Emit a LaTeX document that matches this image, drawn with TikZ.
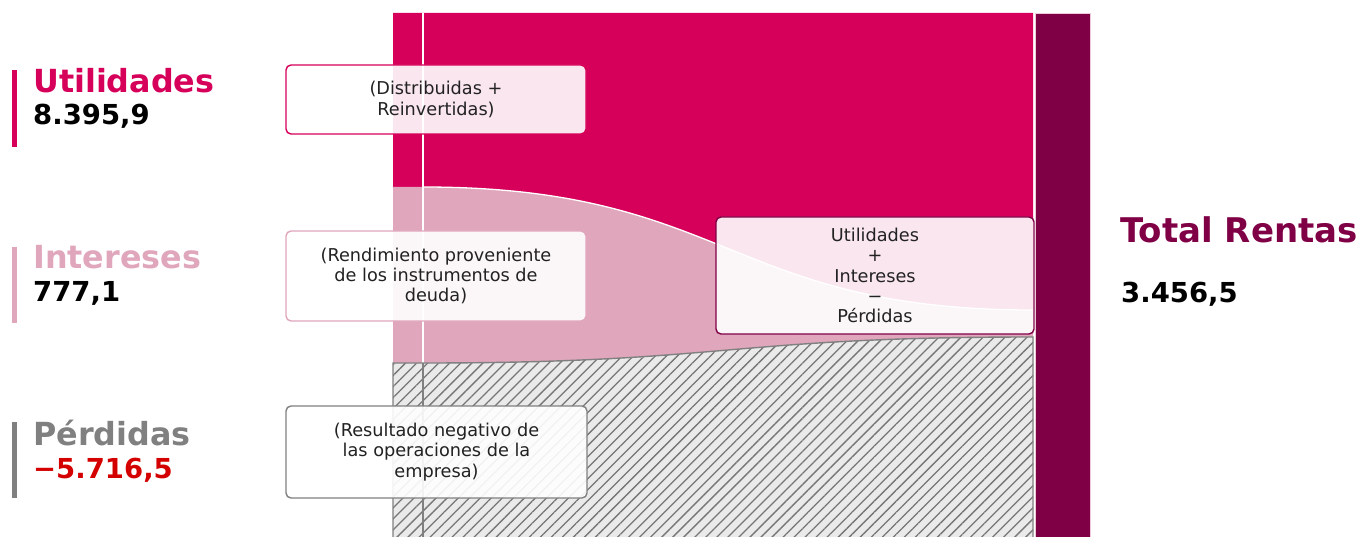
\documentclass[tikz,border=0pt]{standalone}
\usepackage{fontspec}
\setmainfont{DejaVu Sans}
\usetikzlibrary{patterns.meta}
\definecolor{pinkU}{RGB}{214,0,90}
\definecolor{pinkI}{RGB}{224,166,188}
\definecolor{darkM}{RGB}{128,0,70}
\definecolor{greyT}{RGB}{128,128,128}
\definecolor{redV}{RGB}{212,0,0}
\definecolor{hatchbg}{RGB}{234,234,234}
\definecolor{hatchln}{RGB}{118,118,118}
\definecolor{edgeg}{RGB}{128,128,128}
\definecolor{boxtxt}{RGB}{34,34,34}
\tikzset{
  note/.style={draw, line width=1.4pt, rounded corners=5pt, fill=white, fill opacity=0.9, text opacity=1,
    align=center, text=boxtxt, font=\fontsize{17.7}{20.4}\selectfont, inner sep=0pt},
  title/.style={anchor=base west, inner sep=0pt, font=\fontsize{31.8}{36}\selectfont\bfseries},
  value/.style={anchor=base west, inner sep=0pt, font=\fontsize{27.5}{33}\selectfont\bfseries},
  hatched/.style={fill=hatchbg, postaction={pattern={Lines[angle=45,distance=7.8pt,line width=1.3pt]}, pattern color=hatchln}},
}
\begin{document}
\begin{tikzpicture}[x=1pt,y=-1pt]
\useasboundingbox (0,0) rectangle (1359,537);
\clip (0,0) rectangle (1359,537);
% flows
\fill[pinkU] (393,13) -- (1033,13) -- (1033,310) .. controls (728,310) and (728,187) .. (423,187) -- (393,187) -- cycle;
\fill[pinkI] (393,187) -- (423,187) .. controls (728,187) and (728,310) .. (1033,310) -- (1033,337) .. controls (728,337) and (728,363) .. (423,363) -- (393,363) -- cycle;
\draw[white, line width=1.3pt] (423,187) .. controls (728,187) and (728,310) .. (1033,310);
\draw[white, line width=1.8pt] (423,13) -- (423,363);
\path[hatched] (423,363) .. controls (728,363) and (728,337) .. (1033,337) -- (1033,560) -- (423,560) -- cycle;
\path[hatched] (393,363) rectangle (423,560);
\draw[edgeg, line width=1.4pt] (1033,560) -- (1033,337) .. controls (728,337) and (728,363) .. (423,363) -- (393,363) -- (393,560);
\draw[edgeg, line width=1.4pt] (423,363) -- (423,560);
% total bar
\fill[darkM] (1035,13) rectangle (1090,560);
\draw[pinkI!60!white, line width=0.6pt] (1035,560) -- (1035,13) -- (1090,13) -- (1090,560);
% notes
\node[note, draw=pinkU, minimum width=300pt, minimum height=69pt] (nU) at (436,99.5) {(Distribuidas +\\Reinvertidas)};
\node[note, draw=pinkI, minimum width=300pt, minimum height=90pt] (nI) at (436,276) {(Rendimiento proveniente\\de los instrumentos de\\deuda)};
\node[note, draw=edgeg, minimum width=301pt, minimum height=92pt] (nP) at (436.5,452) {(Resultado negativo de\\las operaciones de la\\empresa)};
\node[note, draw=darkM, minimum width=318pt, minimum height=117pt] (nT) at (875,275.5) {Utilidades\\+\\Intereses\\−\\Pérdidas};
% left labels
\fill[pinkU] (12,70) rectangle (17,147);
\fill[pinkI] (12,247) rectangle (17,323);
\fill[greyT] (12,422) rectangle (17,498);
\node[title, text=pinkU] (tU) at (33,93) {Utilidades};
\node[value, text=black] (vU) at (33,125) {8.395,9};
\node[title, text=pinkI] (tI) at (33,269) {Intereses};
\node[value, text=black] (vI) at (33,301) {777,1};
\node[title, text=greyT] (tP) at (33,445) {Pérdidas};
\node[value, text=redV] (vP) at (33,478) {−5.716,5};
% right labels
\node[title, text=darkM, font=\fontsize{34}{40}\selectfont\bfseries] (tT) at (1120,243) {Total Rentas};
\node[value, text=black] (vT) at (1121,302) {3.456,5};
\end{tikzpicture}
\end{document}
